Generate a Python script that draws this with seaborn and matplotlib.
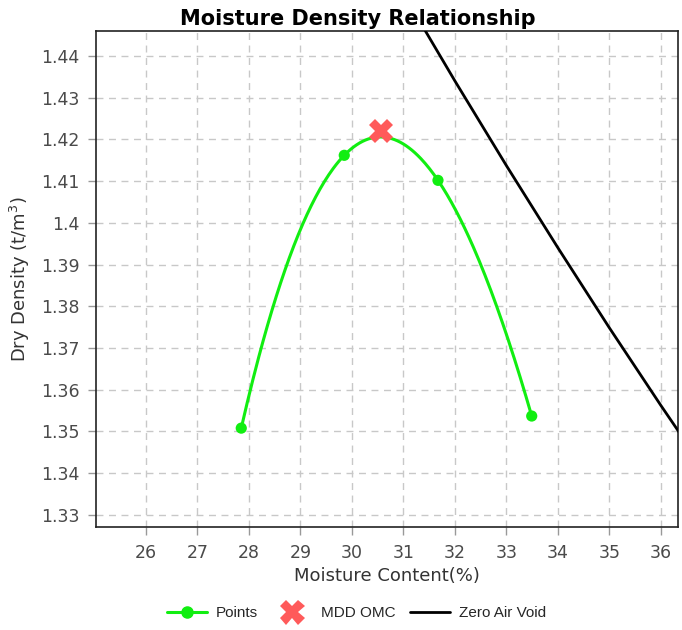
import numpy as np
import pandas as pd
import matplotlib
matplotlib.use("Agg")
import matplotlib.pyplot as plt
from matplotlib.lines import Line2D
import seaborn as sns

# Data
moisture = [27.85, 29.85, 31.67, 33.49]
density = [1.3508, 1.4162, 1.4102, 1.3537]
mdd_omc_x = [30.56]
mdd_omc_y = [1.4221]
zav_x = [31.0, 32.0, 33.0, 34.0, 35.0, 36.0, 37.0]
zav_y = [1.4549, 1.4340, 1.4137, 1.3940, 1.3748, 1.3562, 1.3381]
x_ticks = [26, 27, 28, 29, 30, 31, 32, 33, 34, 35, 36]
y_ticks = [1.33, 1.34, 1.35, 1.36, 1.37, 1.38, 1.39, 1.40, 1.41, 1.42, 1.43, 1.44]
y_tick_labels = ["1.33", "1.34", "1.35", "1.36", "1.37", "1.38", "1.39", "1.4",
                 "1.41", "1.42", "1.43", "1.44"]

sns.set_theme(style="white")
plt.rcParams['font.family'] = ['Liberation Sans', 'DejaVu Sans']

fig = plt.figure(figsize=(6.82, 6.30), dpi=100)
ax = fig.add_axes([0.1408, 0.1635, 0.8533, 0.7873])

GREEN = "#11ee11"

# smooth curve through the points (cubic through the 4 points)
coef = np.polyfit(moisture, density, 3)
xs = np.linspace(min(moisture), max(moisture), 200)
curve = pd.DataFrame({"x": xs, "y": np.polyval(coef, xs)})
sns.lineplot(data=curve, x="x", y="y", ax=ax, color=GREEN, lw=2.2, zorder=3)
pts = pd.DataFrame({"x": moisture, "y": density})
sns.scatterplot(data=pts, x="x", y="y", ax=ax, color=GREEN, s=65,
                edgecolor="none", zorder=4)

zav = pd.DataFrame({"x": zav_x, "y": zav_y})
sns.lineplot(data=zav, x="x", y="y", ax=ax, color="black", lw=2.0, zorder=3)

ax.plot(mdd_omc_x, mdd_omc_y, marker="X", ms=17, color="#ff5a5a",
        markeredgecolor="#ff5a5a", markeredgewidth=0, ls="none", zorder=5)

ax.set_xlim(25.03, 36.33)
ax.set_ylim(1.3271, 1.446)
ax.set_xticks(x_ticks)
ax.set_xticklabels([str(t) for t in x_ticks])
ax.set_yticks(y_ticks)
ax.set_yticklabels(y_tick_labels)
ax.grid(True, ls=(0, (5, 4)), color="#c8c8c8", lw=1.0)
ax.tick_params(axis="both", which="major", labelsize=12.5, colors="#4a4a4a",
               length=6, width=1, direction="out", bottom=True, left=True,
               color="#999999", pad=6)
for lbl in ax.get_xticklabels() + ax.get_yticklabels():
    lbl.set_fontfamily(["DejaVu Sans"])
for s in ax.spines.values():
    s.set_color("#222222")
    s.set_linewidth(1.2)

ax.set_xlabel("Moisture Content(%)", fontsize=13, color="#333333",
              fontfamily=["DejaVu Sans"], labelpad=4)
ax.set_ylabel("Dry Density (t/m$^3$)", fontsize=13, color="#333333",
              fontfamily=["DejaVu Sans"], labelpad=6)
fig.text(0.524, 0.985, "Moisture Density Relationship", fontsize=15,
         fontweight="bold", color="black", ha="center", va="top",
         fontfamily=["DejaVu Sans"])

handles = [
    Line2D([0], [0], color=GREEN, lw=2.2, marker="o", ms=8),
    Line2D([0], [0], color="#ff5a5a", lw=0, marker="X", ms=18, markeredgewidth=0),
    Line2D([0], [0], color="black", lw=2.0),
]
fig.legend(handles, ["Points", "MDD OMC", "Zero Air Void"], loc="lower center",
           bbox_to_anchor=(0.523, -0.006), ncol=3, frameon=False, fontsize=11,
           handlelength=2.6, handletextpad=0.6, columnspacing=0.95)

fig.savefig("out.png", dpi=100)
